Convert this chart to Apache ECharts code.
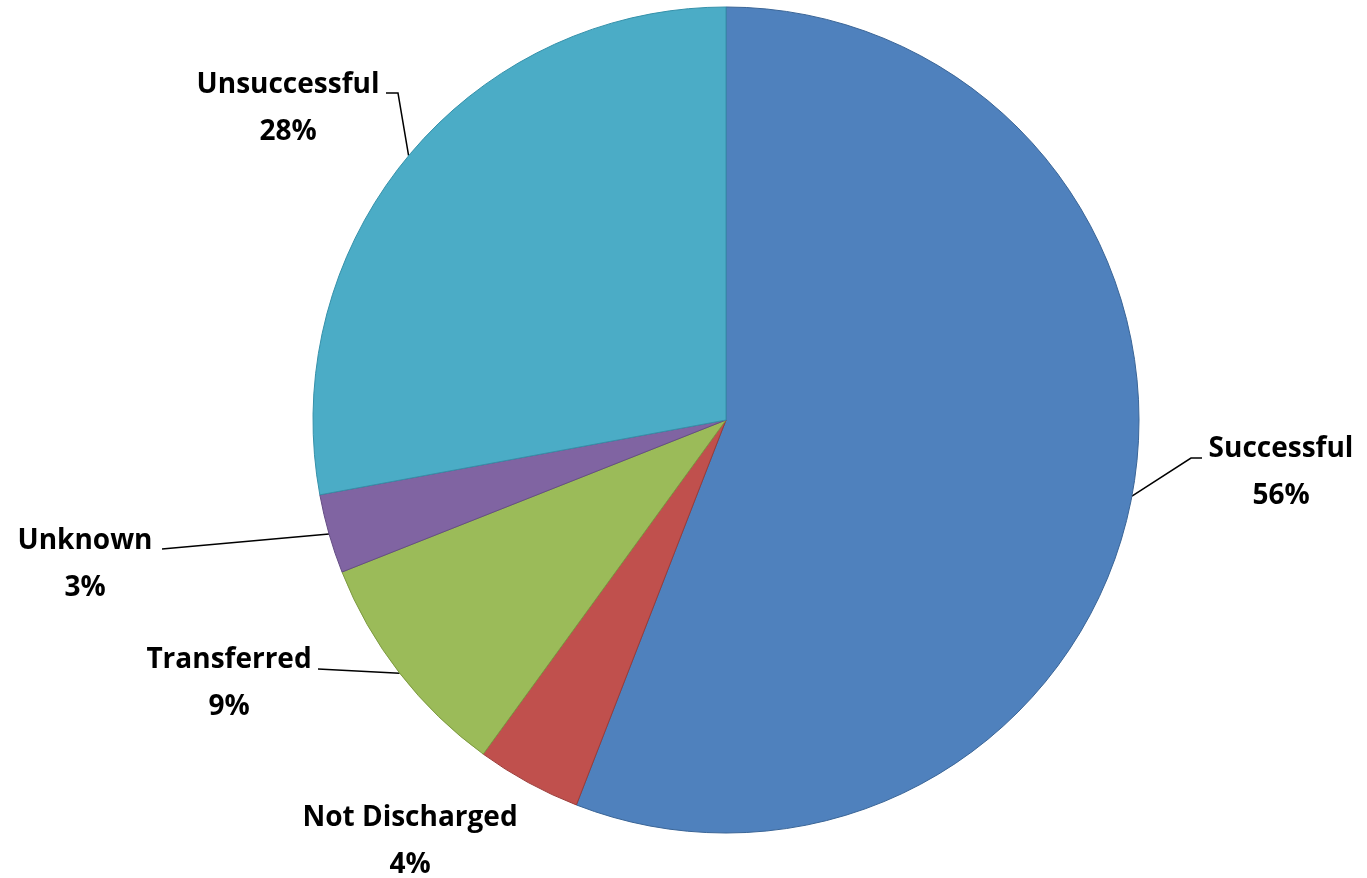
<!DOCTYPE html>
<html>
<head>
<meta charset="utf-8">
<script src="https://cdn.jsdelivr.net/npm/echarts@6/dist/echarts.min.js"></script>
<style>
html,body{margin:0;padding:0;background:#fff;}
#chart{width:1367px;height:878px;}
</style>
</head>
<body>
<div id="chart"></div>
<script>
// Data
const categories = ['Successful', 'Not Discharged', 'Transferred', 'Unknown', 'Unsuccessful'];
const values = [55.9, 4.1, 9.0, 3.1, 27.9];
const percentLabels = ['56%', '4%', '9%', '3%', '28%'];

// Styles
const fillColors = ['#4F81BD', '#C0504D', '#9BBB59', '#8064A2', '#4BACC6'];
const borderColors = ['#3A6597', '#9B3B38', '#7D9A41', '#654D85', '#3591AA'];

// Label layout (center of label text, leader line elbow & end)
const labelPos = [
  { x: 1281, y: 473, elbow: [1191, 458], end: [1202, 458] },
  { x: 410, y: 842, elbow: null, end: null },
  { x: 229, y: 684, elbow: [318, 669], end: [318, 669] },
  { x: 85, y: 565, elbow: [162, 549], end: [162, 549] },
  { x: 288, y: 109, elbow: [398, 93], end: [386, 93] }
];

const chart = echarts.init(document.getElementById('chart'));
chart.setOption({
  animation: false,
  backgroundColor: '#ffffff',
  series: [{
    type: 'pie',
    center: [726, 420],
    radius: 413,
    startAngle: 90,
    clockwise: true,
    avoidLabelOverlap: false,
    data: categories.map((c, i) => ({
      name: c,
      value: values[i],
      itemStyle: { color: fillColors[i], borderColor: borderColors[i], borderWidth: 1 },
      labelLine: { show: labelPos[i].end !== null }
    })),
    label: {
      show: true,
      position: 'outside',
      formatter: (p) => p.name + '\n' + percentLabels[p.dataIndex],
      fontFamily: 'Open Sans',
      fontWeight: 'bold',
      fontSize: 28,
      lineHeight: 47,
      color: '#000',
      align: 'center'
    },
    labelLine: {
      show: true,
      lineStyle: { color: '#000', width: 1.5 }
    },
    labelLayout: function (params) {
      const lp = labelPos[params.dataIndex];
      const res = { x: lp.x, y: lp.y, align: 'center', verticalAlign: 'middle' };
      if (lp.end && params.labelLinePoints) {
        const p0 = params.labelLinePoints[0];
        res.labelLinePoints = [p0, lp.elbow, lp.end];
      }
      return res;
    },
    emphasis: { disabled: true }
  }]
});
</script>
</body>
</html>
